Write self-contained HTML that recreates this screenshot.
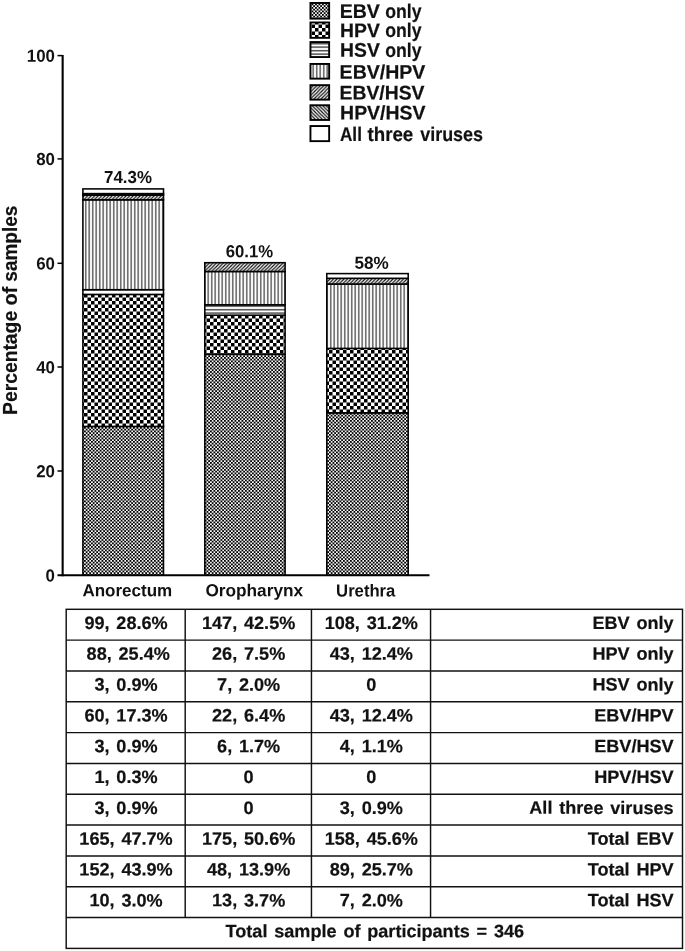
<!DOCTYPE html>
<html lang="en">
<head>
<meta charset="utf-8">
<title>Percentage of samples</title>
<style>
html,body{margin:0;padding:0;background:#fff;}
body{width:685px;height:951px;overflow:hidden;position:relative;}
svg{position:absolute;left:0;top:0;display:block;}
text{font-family:"Liberation Sans",Arial,Helvetica,sans-serif;font-weight:bold;fill:#111;stroke:#111;stroke-width:0.2px;stroke-linejoin:round;}
.ax{font-size:17.4px;stroke-width:0;}
.lg{font-size:19.8px;}
.tb{font-size:18px;}
.yl{font-size:20.2px;}
</style>
</head>
<body>
<svg width="685" height="951" viewBox="0 0 685 951">
<defs>
<pattern id="p0" width="3.5" height="3.5" patternUnits="userSpaceOnUse">
<rect width="3.5" height="3.5" fill="#fff"/>
<rect x="0" y="0" width="1.85" height="1.85" fill="#000"/>
<rect x="1.75" y="1.75" width="1.85" height="1.85" fill="#000"/>
</pattern>
<pattern id="p1" width="7" height="7" patternUnits="userSpaceOnUse">
<rect width="7" height="7" fill="#fff"/>
<rect x="0" y="0" width="3.5" height="3.5" fill="#000"/>
<rect x="3.5" y="3.5" width="3.5" height="3.5" fill="#000"/>
</pattern>
<pattern id="p2" width="3.5" height="3.5" patternUnits="userSpaceOnUse">
<rect width="3.5" height="3.5" fill="#fff"/>
<rect x="0" y="1.1" width="3.5" height="1.15" fill="#111"/>
</pattern>
<pattern id="p3" width="3.5" height="3.5" patternUnits="userSpaceOnUse">
<rect width="3.5" height="3.5" fill="#fff"/>
<rect x="1.2" y="0" width="1.05" height="3.5" fill="#1a1a1a"/>
</pattern>
<pattern id="p4" width="3.5" height="3.5" patternUnits="userSpaceOnUse">
<rect width="3.5" height="3.5" fill="#fff"/>
<path d="M-1,4.5 L4.5,-1 M-1,1 L1,-1 M2.5,4.5 L4.5,2.5" stroke="#111" stroke-width="1.2" fill="none"/>
</pattern>
<pattern id="p5" width="3.5" height="3.5" patternUnits="userSpaceOnUse">
<rect width="3.5" height="3.5" fill="#fff"/>
<path d="M-1,-1 L4.5,4.5 M2.5,-1 L4.5,1 M-1,2.5 L1,4.5" stroke="#111" stroke-width="1.2" fill="none"/>
</pattern>
<pattern id="p6" width="4" height="4" patternUnits="userSpaceOnUse">
<rect width="4" height="4" fill="#fff"/>
</pattern>
</defs>

<g id="legend">
<rect x="310.45" y="2.95" width="18.70" height="15.70" fill="url(#p0)" stroke="#000" stroke-width="1.9"/>
<text class="lg" transform="translate(0,17.80) rotate(0.03)"><tspan x="339.71" textLength="40.16" lengthAdjust="spacingAndGlyphs">EBV</tspan> <tspan x="385.21" textLength="36.27" lengthAdjust="spacingAndGlyphs">only</tspan></text>
<rect x="310.45" y="22.45" width="18.70" height="15.40" fill="url(#p1)" stroke="#000" stroke-width="1.9"/>
<text class="lg" transform="translate(0,37.10) rotate(0.03)"><tspan x="340.12" textLength="39.75" lengthAdjust="spacingAndGlyphs">HPV</tspan> <tspan x="385.21" textLength="36.27" lengthAdjust="spacingAndGlyphs">only</tspan></text>
<rect x="310.45" y="42.05" width="18.70" height="15.00" fill="url(#p2)" stroke="#000" stroke-width="1.9"/>
<text class="lg" transform="translate(0,56.50) rotate(0.03)"><tspan x="340.12" textLength="39.75" lengthAdjust="spacingAndGlyphs">HSV</tspan> <tspan x="385.21" textLength="36.27" lengthAdjust="spacingAndGlyphs">only</tspan></text>
<rect x="310.45" y="63.95" width="18.70" height="14.70" fill="url(#p3)" stroke="#000" stroke-width="1.9"/>
<text class="lg" transform="translate(0,78.50) rotate(0.03)"><tspan x="339.61" textLength="85.71" lengthAdjust="spacingAndGlyphs">EBV/HPV</tspan></text>
<rect x="310.45" y="85.15" width="18.70" height="14.50" fill="url(#p4)" stroke="#000" stroke-width="1.9"/>
<text class="lg" transform="translate(0,99.40) rotate(0.03)"><tspan x="339.62" textLength="84.90" lengthAdjust="spacingAndGlyphs">EBV/HSV</tspan></text>
<rect x="310.45" y="105.25" width="18.70" height="14.70" fill="url(#p5)" stroke="#000" stroke-width="1.9"/>
<text class="lg" transform="translate(0,119.40) rotate(0.03)"><tspan x="340.12" textLength="85.30" lengthAdjust="spacingAndGlyphs">HPV/HSV</tspan></text>
<rect x="310.45" y="126.05" width="18.70" height="15.10" fill="url(#p6)" stroke="#000" stroke-width="1.9"/>
<text class="lg" transform="translate(0,140.70) rotate(0.03)"><tspan x="339.99" textLength="21.91" lengthAdjust="spacingAndGlyphs">All</tspan> <tspan x="367.53" textLength="45.72" lengthAdjust="spacingAndGlyphs">three</tspan> <tspan x="420.25" textLength="62.78" lengthAdjust="spacingAndGlyphs">viruses</tspan></text>
</g>
<g id="axes" stroke="#000" fill="none">
<line x1="62.65" y1="54.9" x2="62.65" y2="576.2" stroke-width="2.1"/>
<line x1="57.5" y1="575.3" x2="429.5" y2="575.3" stroke-width="1.9"/>
<line x1="57.5" y1="471.0" x2="62.6" y2="471.0" stroke-width="1.5"/>
<line x1="57.5" y1="367.0" x2="62.6" y2="367.0" stroke-width="1.5"/>
<line x1="57.5" y1="263.3" x2="62.6" y2="263.3" stroke-width="1.5"/>
<line x1="57.5" y1="158.9" x2="62.6" y2="158.9" stroke-width="1.5"/>
<line x1="57.5" y1="55.6" x2="62.6" y2="55.6" stroke-width="1.5"/>
</g>
<g id="ticks" text-anchor="end">
<text class="ax" transform="translate(55.0,581.50) scale(0.97,1) rotate(0.03)">0</text>
<text class="ax" transform="translate(55.0,477.20) scale(0.97,1) rotate(0.03)">20</text>
<text class="ax" transform="translate(55.0,373.20) scale(0.97,1) rotate(0.03)">40</text>
<text class="ax" transform="translate(55.0,269.50) scale(0.97,1) rotate(0.03)">60</text>
<text class="ax" transform="translate(55.0,165.10) scale(0.97,1) rotate(0.03)">80</text>
<text class="ax" transform="translate(55.0,61.80) scale(0.97,1) rotate(0.03)">100</text>
</g>
<text class="yl" transform="translate(16.9,420) rotate(-90)"><tspan x="5.03" textLength="104.14" lengthAdjust="spacingAndGlyphs">Percentage</tspan> <tspan x="114.42" textLength="18.84" lengthAdjust="spacingAndGlyphs">of</tspan> <tspan x="138.34" textLength="76.03" lengthAdjust="spacingAndGlyphs">samples</tspan></text>
<g id="bars" stroke="#000" stroke-width="1.55">
<rect x="82.9" y="426.4" width="80.6" height="148.6" fill="url(#p0)"/>
<rect x="82.9" y="294.4" width="80.6" height="132.0" fill="url(#p1)"/>
<rect x="82.9" y="289.7" width="80.6" height="4.7" fill="#fff"/>
<rect x="82.9" y="199.8" width="80.6" height="89.9" fill="url(#p3)"/>
<rect x="82.9" y="195.1" width="80.6" height="4.7" fill="url(#p4)"/>
<rect x="82.9" y="193.5" width="80.6" height="1.6" fill="url(#p5)"/>
<rect x="82.9" y="188.9" width="80.6" height="4.7" fill="url(#p6)"/>
<rect x="204.8" y="354.1" width="80.3" height="220.9" fill="url(#p0)"/>
<rect x="204.8" y="315.1" width="80.3" height="39.0" fill="url(#p1)"/>
<rect x="204.8" y="304.8" width="80.3" height="10.4" fill="url(#p2)"/>
<rect x="204.8" y="271.5" width="80.3" height="33.3" fill="url(#p3)"/>
<rect x="204.8" y="262.7" width="80.3" height="8.8" fill="url(#p4)"/>
<rect x="326.8" y="412.9" width="81.4" height="162.1" fill="url(#p0)"/>
<rect x="326.8" y="348.4" width="81.4" height="64.4" fill="url(#p1)"/>
<rect x="326.8" y="284.0" width="81.4" height="64.4" fill="url(#p3)"/>
<rect x="326.8" y="278.3" width="81.4" height="5.7" fill="url(#p4)"/>
<rect x="326.8" y="273.6" width="81.4" height="4.7" fill="url(#p6)"/>
</g>
<g id="barlabels">
<text class="ax" transform="translate(0,183.00) rotate(0.03)"><tspan x="104.09" textLength="47.86" lengthAdjust="spacingAndGlyphs">74.3%</tspan></text>
<text class="ax" transform="translate(0,257.10) rotate(0.03)"><tspan x="225.70" textLength="47.45" lengthAdjust="spacingAndGlyphs">60.1%</tspan></text>
<text class="ax" transform="translate(0,268.50) rotate(0.03)"><tspan x="354.49" textLength="34.27" lengthAdjust="spacingAndGlyphs">58%</tspan></text>
</g>
<g id="xlabels">
<text class="ax" transform="translate(0,596.20) rotate(0.03)"><tspan x="82.39" textLength="89.85" lengthAdjust="spacingAndGlyphs">Anorectum</tspan></text>
<text class="ax" transform="translate(0,596.20) rotate(0.03)"><tspan x="205.39" textLength="97.73" lengthAdjust="spacingAndGlyphs">Oropharynx</tspan></text>
<text class="ax" transform="translate(0,596.20) rotate(0.03)"><tspan x="336.10" textLength="59.28" lengthAdjust="spacingAndGlyphs">Urethra</tspan></text>
</g>
<g id="grid" stroke="#111" stroke-width="1.45" fill="none">
<rect x="66.2" y="609.3" width="616.3" height="339.1"/>
<line x1="66.2" y1="640.1" x2="682.5" y2="640.1"/>
<line x1="66.2" y1="670.9" x2="682.5" y2="670.9"/>
<line x1="66.2" y1="701.8" x2="682.5" y2="701.8"/>
<line x1="66.2" y1="732.6" x2="682.5" y2="732.6"/>
<line x1="66.2" y1="763.4" x2="682.5" y2="763.4"/>
<line x1="66.2" y1="794.2" x2="682.5" y2="794.2"/>
<line x1="66.2" y1="825.0" x2="682.5" y2="825.0"/>
<line x1="66.2" y1="855.9" x2="682.5" y2="855.9"/>
<line x1="66.2" y1="886.7" x2="682.5" y2="886.7"/>
<line x1="66.2" y1="917.5" x2="682.5" y2="917.5"/>
<line x1="185.2" y1="609.3" x2="185.2" y2="917.5"/>
<line x1="311.45" y1="609.3" x2="311.45" y2="917.5"/>
<line x1="430.55" y1="609.3" x2="430.55" y2="917.5"/>
</g>
<g id="cells" class="tb" word-spacing="1.8">
<text class="tb" transform="translate(126.00,629.00) scale(1.005,1) rotate(0.03)" text-anchor="middle">99, 28.6%</text>
<text class="tb" transform="translate(248.62,629.00) scale(1.005,1) rotate(0.03)" text-anchor="middle">147, 42.5%</text>
<text class="tb" transform="translate(371.30,629.00) scale(1.005,1) rotate(0.03)" text-anchor="middle">108, 31.2%</text>
<text class="tb" transform="translate(673.60,629.00) scale(1.005,1) rotate(0.03)" text-anchor="end">EBV only</text>
<text class="tb" transform="translate(128.20,659.82) scale(1.005,1) rotate(0.03)" text-anchor="middle">88, 25.4%</text>
<text class="tb" transform="translate(248.62,659.82) scale(1.005,1) rotate(0.03)" text-anchor="middle">26, 7.5%</text>
<text class="tb" transform="translate(371.30,659.82) scale(1.005,1) rotate(0.03)" text-anchor="middle">43, 12.4%</text>
<text class="tb" transform="translate(673.60,659.82) scale(1.005,1) rotate(0.03)" text-anchor="end">HPV only</text>
<text class="tb" transform="translate(126.00,690.64) scale(1.005,1) rotate(0.03)" text-anchor="middle">3, 0.9%</text>
<text class="tb" transform="translate(248.62,690.64) scale(1.005,1) rotate(0.03)" text-anchor="middle">7, 2.0%</text>
<text class="tb" transform="translate(371.30,690.64) scale(1.005,1) rotate(0.03)" text-anchor="middle">0</text>
<text class="tb" transform="translate(673.60,690.64) scale(1.005,1) rotate(0.03)" text-anchor="end">HSV only</text>
<text class="tb" transform="translate(126.00,721.46) scale(1.005,1) rotate(0.03)" text-anchor="middle">60, 17.3%</text>
<text class="tb" transform="translate(248.62,721.46) scale(1.005,1) rotate(0.03)" text-anchor="middle">22, 6.4%</text>
<text class="tb" transform="translate(371.30,721.46) scale(1.005,1) rotate(0.03)" text-anchor="middle">43, 12.4%</text>
<text class="tb" transform="translate(673.60,721.46) scale(1.005,1) rotate(0.03)" text-anchor="end">EBV/HPV</text>
<text class="tb" transform="translate(126.00,752.28) scale(1.005,1) rotate(0.03)" text-anchor="middle">3, 0.9%</text>
<text class="tb" transform="translate(248.62,752.28) scale(1.005,1) rotate(0.03)" text-anchor="middle">6, 1.7%</text>
<text class="tb" transform="translate(371.30,752.28) scale(1.005,1) rotate(0.03)" text-anchor="middle">4, 1.1%</text>
<text class="tb" transform="translate(673.60,752.28) scale(1.005,1) rotate(0.03)" text-anchor="end">EBV/HSV</text>
<text class="tb" transform="translate(126.00,783.10) scale(1.005,1) rotate(0.03)" text-anchor="middle">1, 0.3%</text>
<text class="tb" transform="translate(248.62,783.10) scale(1.005,1) rotate(0.03)" text-anchor="middle">0</text>
<text class="tb" transform="translate(371.30,783.10) scale(1.005,1) rotate(0.03)" text-anchor="middle">0</text>
<text class="tb" transform="translate(673.60,783.10) scale(1.005,1) rotate(0.03)" text-anchor="end">HPV/HSV</text>
<text class="tb" transform="translate(126.00,813.92) scale(1.005,1) rotate(0.03)" text-anchor="middle">3, 0.9%</text>
<text class="tb" transform="translate(248.62,813.92) scale(1.005,1) rotate(0.03)" text-anchor="middle">0</text>
<text class="tb" transform="translate(371.30,813.92) scale(1.005,1) rotate(0.03)" text-anchor="middle">3, 0.9%</text>
<text class="tb" transform="translate(673.60,813.92) scale(1.005,1) rotate(0.03)" text-anchor="end">All three viruses</text>
<text class="tb" transform="translate(126.00,844.74) scale(1.005,1) rotate(0.03)" text-anchor="middle">165, 47.7%</text>
<text class="tb" transform="translate(248.62,844.74) scale(1.005,1) rotate(0.03)" text-anchor="middle">175, 50.6%</text>
<text class="tb" transform="translate(371.30,844.74) scale(1.005,1) rotate(0.03)" text-anchor="middle">158, 45.6%</text>
<text class="tb" transform="translate(673.60,844.74) scale(1.005,1) rotate(0.03)" text-anchor="end">Total EBV</text>
<text class="tb" transform="translate(126.00,875.56) scale(1.005,1) rotate(0.03)" text-anchor="middle">152, 43.9%</text>
<text class="tb" transform="translate(248.62,875.56) scale(1.005,1) rotate(0.03)" text-anchor="middle">48, 13.9%</text>
<text class="tb" transform="translate(371.30,875.56) scale(1.005,1) rotate(0.03)" text-anchor="middle">89, 25.7%</text>
<text class="tb" transform="translate(673.60,875.56) scale(1.005,1) rotate(0.03)" text-anchor="end">Total HPV</text>
<text class="tb" transform="translate(126.00,906.38) scale(1.005,1) rotate(0.03)" text-anchor="middle">10, 3.0%</text>
<text class="tb" transform="translate(248.62,906.38) scale(1.005,1) rotate(0.03)" text-anchor="middle">13, 3.7%</text>
<text class="tb" transform="translate(371.30,906.38) scale(1.005,1) rotate(0.03)" text-anchor="middle">7, 2.0%</text>
<text class="tb" transform="translate(673.60,906.38) scale(1.005,1) rotate(0.03)" text-anchor="end">Total HSV</text>
<text class="tb" transform="translate(374.85,937.30) scale(1.005,1) rotate(0.03)" text-anchor="middle">Total sample of participants = 346</text>
</g>
</svg>
</body>
</html>
